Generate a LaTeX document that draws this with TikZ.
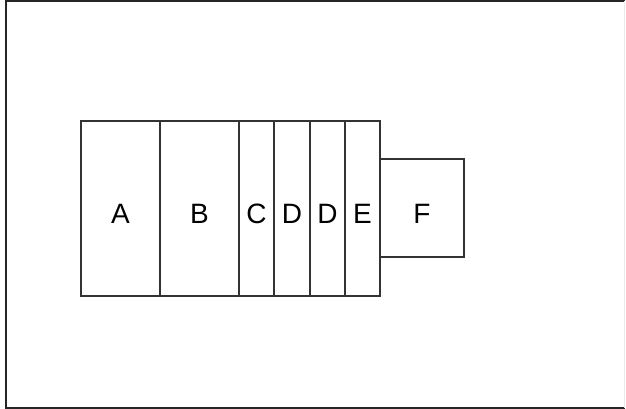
\documentclass[tikz,border=0pt]{standalone}
\usepackage{fontspec}
\setmainfont{Liberation Sans}
\definecolor{edge}{HTML}{333333}
\begin{document}
\begin{tikzpicture}[x=1pt,y=-1pt,
  cell/.style={draw=edge,line width=1.5pt,fill=white},
  lbl/.style={font=\fontsize{28}{30}\selectfont,text=black,anchor=base,inner sep=0pt}]
\useasboundingbox (0,0) rectangle (626,409);
\fill[white] (0,0) rectangle (626,409);
% frame
\draw[black!85,line width=2pt] (625,1.5) -- (5.5,1.5) -- (5.5,407.5) -- (625,407.5);
\draw[black!8,line width=1pt] (624.5,1.5) -- (624.5,407.5);
% cells
\draw[cell] (380,159) rectangle (464,257);
\draw[cell] (81,121) rectangle (160,296);
\draw[cell] (160,121) rectangle (239,296);
\draw[cell] (239,121) rectangle (274,296);
\draw[cell] (274,121) rectangle (310,296);
\draw[cell] (310,121) rectangle (345,296);
\draw[cell] (345,121) rectangle (380,296);
\node[lbl] (a) at (120.5,223.5) {A};
\node[lbl] (b) at (199.5,223.5) {B};
\node[lbl] (c) at (256.5,223.5) {C};
\node[lbl] (d1) at (292,223.5) {D};
\node[lbl] (d2) at (327.5,223.5) {D};
\node[lbl] (e) at (362.5,223.5) {E};
\node[lbl] (f) at (422,223.5) {F};
\end{tikzpicture}
\end{document}
